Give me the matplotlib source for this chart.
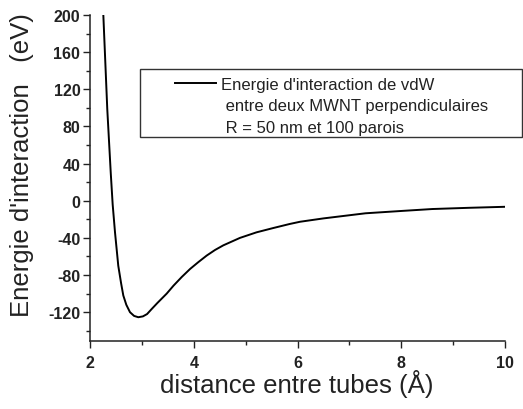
import matplotlib
matplotlib.use('Agg')
import matplotlib.pyplot as plt
from matplotlib.patches import Rectangle
from matplotlib.lines import Line2D
from matplotlib.ticker import MultipleLocator

plt.rcParams['font.family'] = ['Liberation Sans', 'DejaVu Sans']
plt.rcParams['axes.unicode_minus'] = False

# distance entre tubes (A) / energie (eV)
distance = [2.257, 2.333, 2.40, 2.437, 2.482, 2.545, 2.60, 2.642, 2.70, 2.771,
            2.85, 2.931, 3.02, 3.10, 3.19, 3.30, 3.478, 3.61, 3.77, 3.93,
            4.09, 4.25, 4.41, 4.57, 4.89, 5.21, 5.53, 5.85, 6.05, 6.5,
            7.31, 8.0, 8.6, 9.3, 10.0]
energie = [200, 98.6, 30, -4, -34, -70, -89, -102, -112, -120,
           -124, -125.4, -124.5, -122, -116.5, -110, -100, -91.4, -82, -73.4,
           -66, -59, -53, -48, -40, -34, -29.4, -25, -22.6, -19,
           -13.5, -11, -8.9, -7.6, -6.5]

legend_lines = ["Energie d'interaction de vdW",
                " entre deux MWNT perpendiculaires",
                " R = 50 nm et 100 parois"]

W, H = 523, 410
fig = plt.figure(figsize=(W / 100, H / 100), dpi=100)
ax = fig.add_axes([90 / W, 1 - 342 / H, 415 / W, 326 / H])

ax.plot(distance, energie, color='black', lw=1.4)

ax.set_xlim(2, 10)
ax.set_ylim(-151, 200)
ax.xaxis.set_major_locator(MultipleLocator(2))
ax.xaxis.set_minor_locator(MultipleLocator(1))
ax.yaxis.set_major_locator(MultipleLocator(40))
ax.yaxis.set_minor_locator(MultipleLocator(20))

for side in ['top', 'right']:
    ax.spines[side].set_visible(False)
for side in ['left', 'bottom']:
    ax.spines[side].set_linewidth(1.1)
    ax.spines[side].set_color('#222222')

ax.tick_params(which='major', length=5, width=1.0, direction='out',
               labelsize=11.5, colors='#222222')
ax.tick_params(which='minor', length=3, width=1.0, direction='out',
               colors='#222222')
ax.tick_params(axis='y', which='major', pad=2)
ax.tick_params(axis='x', which='major', pad=5)
for lab in ax.get_xticklabels() + ax.get_yticklabels():
    lab.set_fontweight('bold')

fig.text(297 / W, 1 - 384 / H, 'distance entre tubes (\u00c5)', fontsize=18.5,
         ha='center', va='center', color='#222222')
fig.text(22 / W, 1 - 165 / H, "Energie d'interaction   (eV)", fontsize=18.5,
         rotation=90, ha='center', va='center', color='#222222')

# legend box
fig.add_artist(Rectangle((140 / W, 1 - 138 / H), 382 / W, 68 / H,
                         transform=fig.transFigure, fill=False,
                         edgecolor='#333333', lw=1.0))
fig.add_artist(Line2D([175 / W, 216 / W], [1 - 84 / H, 1 - 84 / H],
                      transform=fig.transFigure, color='black', lw=1.4))
for i, txt in enumerate(legend_lines):
    fig.text(221 / W, 1 - (90 + 21.5 * i) / H, txt, fontsize=12,
             ha='left', va='baseline', color='#222222')

fig.savefig('out.png', dpi=100)
